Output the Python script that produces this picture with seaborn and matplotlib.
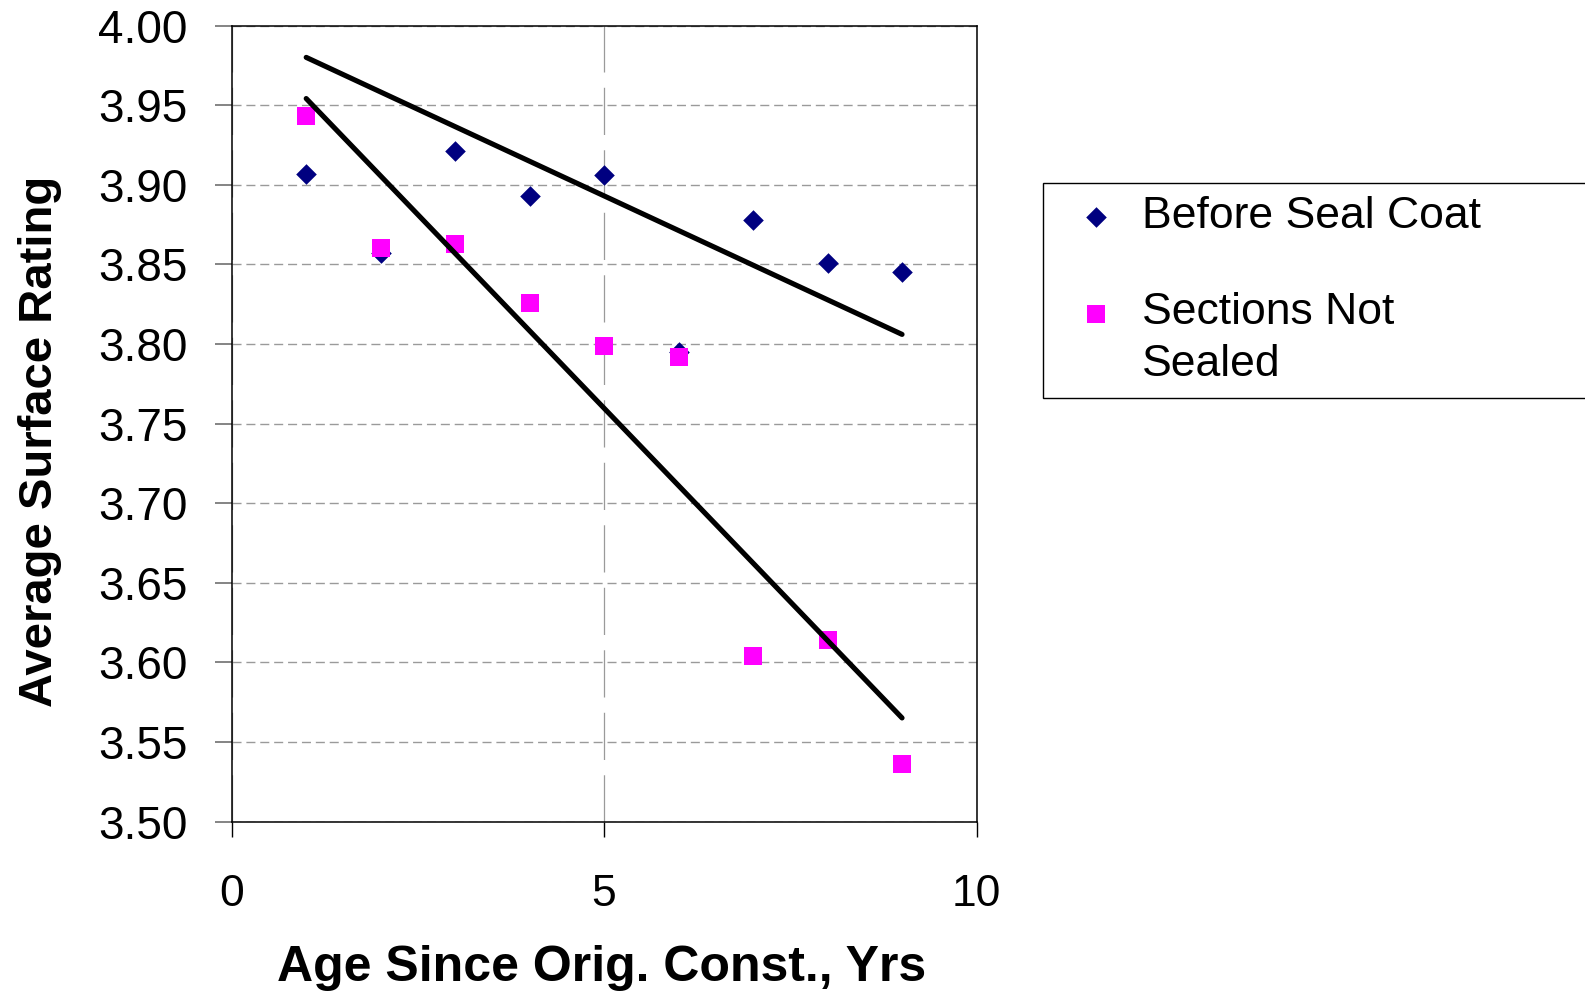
import numpy as np
import pandas as pd
import matplotlib
matplotlib.use("Agg")
import matplotlib.pyplot as plt
from matplotlib.transforms import Affine2D
from matplotlib.legend_handler import HandlerPathCollection
import seaborn as sns

# ---- data -------------------------------------------------------------
age_years = [1, 2, 3, 4, 5, 6, 7, 8, 9]
before_seal_coat = [3.907, 3.857, 3.921, 3.893, 3.906, 3.795, 3.878, 3.851, 3.845]
sections_not_sealed = [3.943, 3.860, 3.863, 3.826, 3.7985, 3.792, 3.604, 3.614, 3.536]

# straight trend line for the "before seal coat" series (value at first/last age)
before_trend_age = [1, 9]
before_trend_value = [3.980, 3.806]

series_names = ["Before Seal Coat", "Sections Not\nSealed"]
x_ticks = [0, 5, 10]
y_ticks = [3.50, 3.55, 3.60, 3.65, 3.70, 3.75, 3.80, 3.85, 3.90, 3.95, 4.00]

x_label = "Age Since Orig. Const., Yrs"
y_label = "Average Surface Rating"

# ---- style ------------------------------------------------------------
sns.set_style("white")
plt.rcParams["font.family"] = ["Liberation Sans", "DejaVu Sans"]
plt.rcParams["lines.scale_dashes"] = False
plt.rcParams["text.color"] = "black"
plt.rcParams["axes.labelcolor"] = "black"
plt.rcParams["xtick.color"] = "black"
plt.rcParams["ytick.color"] = "black"

NAVY = "#000080"
MAGENTA = "#FF00FF"
GRID = "#9a9a9a"

fig = plt.figure(figsize=(15.85, 9.94), dpi=100)
ax = fig.add_axes([0.1462, 0.1735, 0.4699, 0.8008])

before_df = pd.DataFrame({"age": age_years, "rating": before_seal_coat})
unsealed_df = pd.DataFrame({"age": age_years, "rating": sections_not_sealed})
trend_df = pd.DataFrame({"age": before_trend_age, "rating": before_trend_value})

sns.scatterplot(data=before_df, x="age", y="rating", marker="D", s=110,
                color=NAVY, linewidth=0, label=series_names[0], ax=ax, zorder=3)
sns.scatterplot(data=unsealed_df, x="age", y="rating", marker="s", s=185,
                color=MAGENTA, linewidth=0, label=series_names[1], ax=ax, zorder=4)

sns.lineplot(data=trend_df, x="age", y="rating", color="black", linewidth=3.7,
             solid_capstyle="round", ax=ax, zorder=5, legend=False)
sns.regplot(data=unsealed_df, x="age", y="rating", scatter=False, ci=None,
            truncate=True, color="black",
            line_kws={"linewidth": 3.7, "solid_capstyle": "round", "zorder": 5},
            ax=ax)

# ---- axes -------------------------------------------------------------
ax.set_xlim(0, 10)
ax.set_ylim(3.50, 4.00)
ax.set_xticks(x_ticks)
ax.set_xticklabels([str(t) for t in x_ticks])
ax.set_yticks(y_ticks)
ax.set_yticklabels([f"{t:.2f}" for t in y_ticks])

ax.tick_params(axis="y", direction="out", length=12, width=1.2, color="#707070",
               pad=20, labelsize=33, labelcolor="black", left=True)
ax.tick_params(axis="x", direction="out", length=11, width=1.0, color="black",
               pad=27, labelsize=32, labelcolor="black", bottom=True)

for side in ["left", "right", "top", "bottom"]:
    ax.spines[side].set_visible(True)
    ax.spines[side].set_color("black")
    ax.spines[side].set_linewidth(1.1)

ax.yaxis.grid(True, color=GRID, linestyle=(0, (6.5, 3.5)), linewidth=1.0)
ax.xaxis.grid(True, color=GRID, linestyle=(0, (34, 11)), linewidth=0.9)
ax.set_axisbelow(True)

ax.set_xlabel(x_label, fontsize=36, fontweight="bold", color="black")
ax.set_ylabel(y_label, fontsize=34, fontweight="bold", color="black")
ax.xaxis.set_label_coords(0.497, -0.155)
ax.yaxis.set_label_coords(-0.2276, 0.478)


# ---- legend -----------------------------------------------------------
class RaisedHandler(HandlerPathCollection):
    """Scatter legend handle shifted upward by a number of points."""

    def __init__(self, dy, **kw):
        super().__init__(**kw)
        self._dy = dy

    def create_artists(self, legend, orig_handle, xdescent, ydescent, width,
                       height, fontsize, trans):
        shifted = Affine2D().translate(0, self._dy) + trans
        return super().create_artists(legend, orig_handle, xdescent, ydescent,
                                      width, height, fontsize, shifted)


handles, labels = ax.get_legend_handles_labels()
if ax.get_legend() is not None:
    ax.get_legend().remove()
leg = fig.legend(handles, labels, loc="upper left",
                 bbox_to_anchor=(1043 / 1585, 0.5, 0.45, 1 - 183 / 994 - 0.5),
                 bbox_transform=fig.transFigure, mode="expand",
                 borderaxespad=0, fontsize=32, frameon=True, fancybox=False,
                 shadow=False, framealpha=1, edgecolor="black",
                 borderpad=0.3, labelspacing=1.22, handlelength=1.78,
                 handletextpad=0.15, scatterpoints=1,
                 handler_map={handles[1]: RaisedHandler(dy=20.5)})
leg.get_frame().set_linewidth(1.0)
for txt in leg.get_texts():
    txt.set_linespacing(1.35)
    txt.set_color("black")

fig.savefig("out.png", dpi=100, facecolor="white")
